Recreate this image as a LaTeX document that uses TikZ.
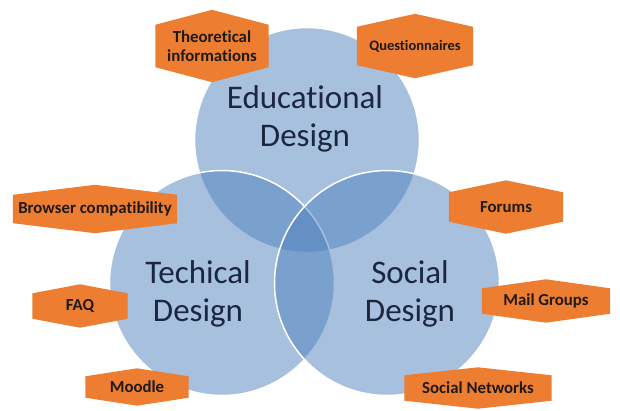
\documentclass[tikz,border=0pt]{standalone}
\usepackage{fontspec}
\setmainfont{Carlito}[Ligatures=NoCommon]

\definecolor{vennblue}{HTML}{4F81BD}
\definecolor{hexorange}{HTML}{ED7D31}
\definecolor{venninkcol}{HTML}{1B2740}
\definecolor{hexinkcol}{HTML}{1E1A18}

\pgfdeclarelayer{circles}
\pgfdeclarelayer{hexes}
\pgfsetlayers{circles,hexes,main}

% orange hexagon behind a label node: name, height of the point
\newcommand{\hexback}[2]{%
  \begin{pgfonlayer}{hexes}
    \fill[hexorange] (#1.north west) -- ([yshift=#2]#1.north) -- (#1.north east)
      -- (#1.south east) -- ([yshift=-#2]#1.south) -- (#1.south west) -- cycle;
  \end{pgfonlayer}}

\begin{document}
\begin{tikzpicture}[x=1pt,y=-1pt,
    venn/.style={fill=vennblue,fill opacity=0.5,draw=white,line width=1.5pt},
    venntext/.style={text=venninkcol,align=center,font=\fontsize{33}{38}\selectfont},
    hexbox/.style={text=hexinkcol,align=center,inner sep=0pt,font=\bfseries\fontsize{16.8}{19}\selectfont}]
    \pgfmathsetmacro{\R}{112.5}

    \useasboundingbox (0,0) rectangle (620,410);

    % the three circles
    \begin{pgfonlayer}{circles}
        \draw[venn] (307,140) circle[radius=\R pt];
        \draw[venn] (222,283) circle[radius=\R pt];
        \draw[venn] (387,283) circle[radius=\R pt];
    \end{pgfonlayer}

    % circle titles
    \node[venntext] (edu) at (305,119) {Educational\\Design};
    \node[venntext] (tech) at (198,294) {Techical\\Design};
    \node[venntext] (soc) at (410,294) {Social\\Design};

    % educational items
    \node[hexbox,minimum width=113pt,minimum height=42pt] (theory) at (212,46) {Theoretical\\informations};
    \hexback{theory}{15pt}
    \node[hexbox,minimum width=116pt,minimum height=38pt,font=\bfseries\fontsize{14.5}{17}\selectfont] (quest) at (415,46) {Questionnaires};
    \hexback{quest}{13pt}

    % technical items
    \node[hexbox,minimum width=164pt,minimum height=28pt] (browser) at (95,209) {Browser compatibility};
    \hexback{browser}{10pt}
    \node[hexbox,minimum width=95pt,minimum height=25pt] (faq) at (80,306) {FAQ};
    \hexback{faq}{9pt}
    \node[hexbox,minimum width=103pt,minimum height=21pt] (moodle) at (137,387) {Moodle};
    \hexback{moodle}{8pt}

    % social items
    \node[hexbox,minimum width=114pt,minimum height=29pt] (forums) at (506,207) {Forums};
    \hexback{forums}{12pt}
    \node[hexbox,minimum width=128pt,minimum height=25pt] (mail) at (546,301) {Mail Groups};
    \hexback{mail}{9pt}
    \node[hexbox,minimum width=147pt,minimum height=25pt] (socnet) at (478,388) {Social Networks};
    \hexback{socnet}{8pt}
\end{tikzpicture}
\end{document}
